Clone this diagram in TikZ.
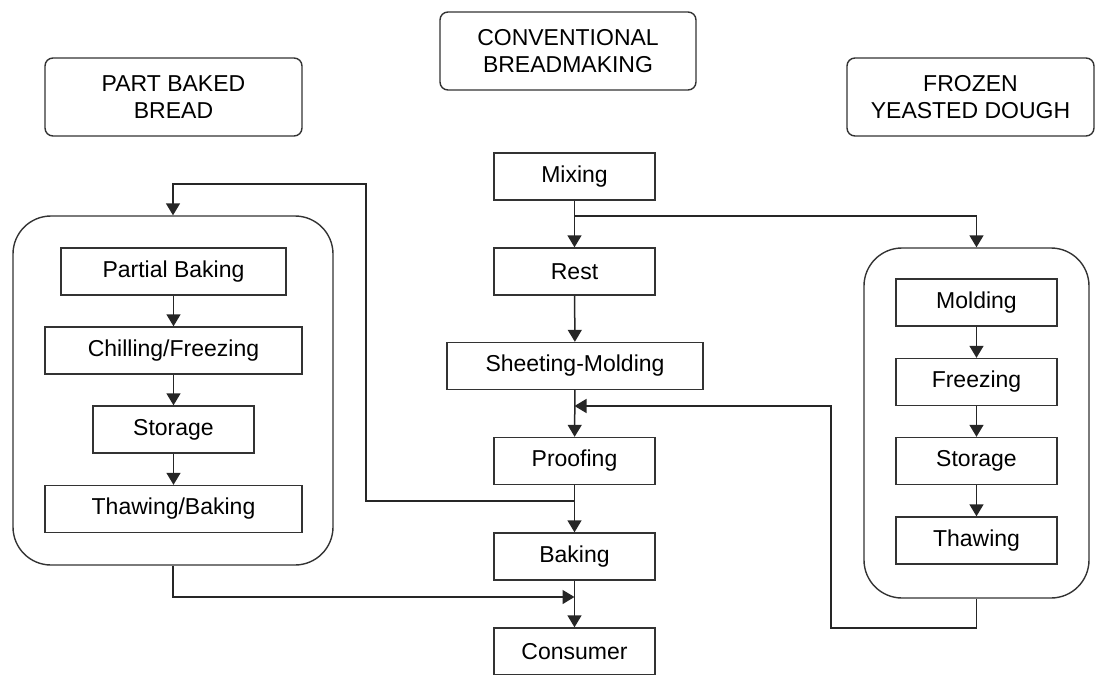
\documentclass[tikz,border=0pt]{standalone}
\usepackage{fontspec}
\setmainfont{Liberation Sans}
\usetikzlibrary{arrows.meta}
\begin{document}
\begin{tikzpicture}[x=1pt,y=-1pt,
  every node/.style={font=\fontsize{23}{27.5}\selectfont, text=black},
  box/.style={draw=black!80, line width=1.4pt, minimum height=47, inner sep=0pt},
  head/.style={draw=black!80, line width=1.4pt, rounded corners=8pt, align=center, inner sep=0pt},
  cont/.style={draw=black!80, line width=1.4pt, rounded corners=38pt, inner sep=0pt},
  conn/.style={draw=black!85, line width=1.5pt},
  arr/.style={conn, -{Triangle[length=12pt,width=14pt]}}
]
\useasboundingbox (0,0) rectangle (1096,675);

% headers
\node[head, minimum width=257, minimum height=78] (hpb) at (173.5,97) {PART BAKED\\BREAD};
\node[head, minimum width=256, minimum height=78] (hcb) at (568,51) {CONVENTIONAL\\BREADMAKING};
\node[head, minimum width=247, minimum height=78] (hfd) at (970.5,97) {FROZEN\\YEASTED DOUGH};

% central column
\node[box, minimum width=161] (mix) at (574.5,176.5) {Mixing};
\node[box, minimum width=161] (rest) at (574.5,271.5) {Rest};
\node[box, minimum width=256] (sheet) at (575,366) {Sheeting-Molding};
\node[box, minimum width=161] (proof) at (574.5,461) {Proofing};
\node[box, minimum width=161] (bake) at (574.5,556.5) {Baking};
\node[box, minimum width=161] (cons) at (574.5,651.5) {Consumer};

% left container
\node[cont, minimum width=320, minimum height=349] (lc) at (173,390.5) {};
\node[box, minimum width=225] (pbk) at (173.5,271.5) {Partial Baking};
\node[box, minimum width=257] (chf) at (173.5,350.5) {Chilling/Freezing};
\node[box, minimum width=161] (lst) at (173.5,429.5) {Storage};
\node[box, minimum width=257] (thb) at (173.5,509) {Thawing/Baking};

% right container
\node[cont, minimum width=225, minimum height=350] (rc) at (976.5,423) {};
\node[box, minimum width=161] (mold) at (976.5,302.5) {Molding};
\node[box, minimum width=161] (frz) at (976.5,382) {Freezing};
\node[box, minimum width=161] (rst) at (976.5,461) {Storage};
\node[box, minimum width=161] (thw) at (976.5,540.5) {Thawing};

% junction coordinates
\coordinate (j1) at (574.5,216);
\coordinate (j2) at (574.5,406);
\coordinate (j3) at (574.5,501);
\coordinate (j4) at (574.5,597);

% central flow
\draw[arr] (mix) -- (rest);
\draw[arr] (rest) -- (sheet);
\draw[arr] (sheet) -- (proof);
\draw[arr] (proof) -- (bake);
\draw[arr] (bake) -- (cons);

% branch to frozen dough
\draw[arr] (j1) -| (rc.north);
% frozen dough back to proofing
\draw[arr] (rc.south) |- (831,628) |- (j2);
% branch to part baked
\draw[arr] (j3) -| (366,184) -| (lc.north);
% part baked to consumer
\draw[arr] (lc.south) |- (j4);

% left inner flow
\draw[arr] (pbk) -- (chf);
\draw[arr] (chf) -- (lst);
\draw[arr] (lst) -- (thb);

% right inner flow
\draw[arr] (mold) -- (frz);
\draw[arr] (frz) -- (rst);
\draw[arr] (rst) -- (thw);
\end{tikzpicture}
\end{document}
